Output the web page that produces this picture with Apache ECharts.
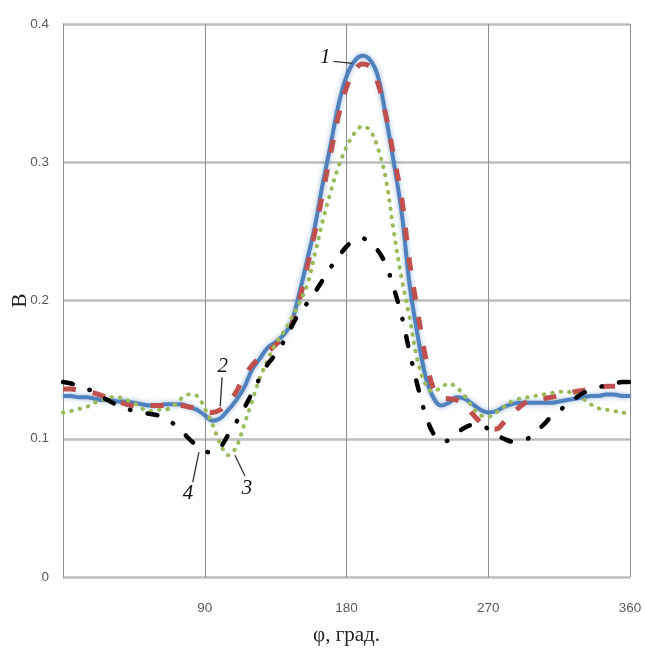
<!DOCTYPE html>
<html>
<head>
<meta charset="utf-8">
<script src="https://cdn.jsdelivr.net/npm/echarts@6/dist/echarts.min.js"></script>
<style>
html,body{margin:0;padding:0;background:#fff;}
#c{width:645px;height:655px;}
</style>
</head>
<body>
<div id="c"></div>
<script>
// angle, degrees
const phi = [0,5,10,15,20,25,30,35,40,45,50,55,60,65,70,75,80,85,90,95,100,105,110,115,120,125,130,135,140,145,150,155,160,165,170,175,180,185,190,195,200,205,210,215,220,225,230,235,240,245,250,255,260,265,270,275,280,285,290,295,300,305,310,315,320,325,330,335,340,345,350,355,360];
const curve1 = [.131,.131,.130,.130,.129,.128,.128,.127,.127,.126,.125,.124,.124,.125,.125,.125,.123,.121,.117,.113,.115,.121,.128,.137,.150,.158,.166,.170,.175,.184,.205,.229,.254,.285,.313,.342,.362,.373,.377,.374,.362,.333,.300,.264,.212,.176,.146,.130,.124,.126,.130,.129,.125,.121,.119,.120,.123,.125,.126,.126,.126,.126,.126,.127,.128,.129,.130,.131,.131,.132,.132,.131,.131];
const curve2 = [.136,.136,.135,.134,.133,.131,.129,.127,.125,.124,.124,.124,.124,.124,.124,.124,.123,.122,.120,.119,.121,.126,.134,.145,.153,.159,.163,.168,.174,.182,.200,.224,.250,.278,.307,.334,.354,.366,.371,.369,.357,.334,.304,.274,.228,.193,.160,.137,.130,.129,.128,.125,.118,.112,.108,.107,.112,.118,.123,.127,.128,.129,.130,.131,.132,.134,.135,.136,.137,.138,.138,.138,.138];
const curve3 = [.119,.120,.1215,.123,.126,.128,.130,.130,.128,.126,.122,.120,.121,.121,.124,.129,.132,.131,.122,.110,.096,.088,.094,.110,.127,.144,.157,.169,.177,.187,.198,.211,.234,.258,.279,.297,.311,.321,.326,.323,.310,.288,.250,.216,.188,.157,.140,.134,.137,.140,.137,.131,.123,.117,.116,.119,.123,.127,.129,.130,.131,.132,.133,.134,.134,.132,.129,.125,.122,.121,.120,.119,.118];
const curve4 = [.141,.140,.138,.136,.134,.130,.127,.124,.122,.120,.119,.118,.117,.115,.111,.106,.100,.095,.091,.090,.094,.103,.112,.122,.133,.144,.154,.161,.170,.181,.191,.198,.206,.215,.224,.232,.239,.244,.245,.242,.236,.226,.209,.189,.163,.139,.118,.104,.098,.099,.104,.108,.110,.110,.107,.103,.100,.098,.099,.100,.105,.110,.116,.120,.125,.129,.133,.135,.137,.139,.140,.141,.141];
const xTicks = [90,180,270,360];
// curve number labels: [text, label position, leader start, leader end] in data coords
const notes = [
  ['1', [166.5,0.3757], [171.8,0.373], [183.8,0.3715]],
  ['2', [101.5,0.1525], [101.0,0.1445], [99.8,0.1236]],
  ['3', [116.8,0.0643], [109.2,0.0880], [115.5,0.0730]],
  ['4', [79.3,0.0607], [82.4,0.0686], [86.3,0.0903]]
];

const zip = a => phi.map((p,i)=>[p,a[i]]);
const chart = echarts.init(document.getElementById('c'), null, {renderer:'canvas'});
const base = {type:'line', smooth:0.35, showSymbol:false, symbol:'none', animation:false};
chart.setOption({
  animation:false,
  backgroundColor:'#fff',
  grid:{left:63, right:15, top:24, bottom:78, containLabel:false, outerBoundsMode:'none'},
  xAxis:{
    type:'value', min:0, max:360, interval:90,
    name:'φ, град.', nameLocation:'middle', nameGap:48, nameMoveOverlap:false,
    nameTextStyle:{fontFamily:'Liberation Serif', fontSize:21, color:'#222'},
    axisLine:{show:false}, axisTick:{show:false},
    axisLabel:{margin:24, color:'#595959', fontFamily:'Liberation Sans', fontSize:13.5,
      formatter:v=> xTicks.indexOf(v)>=0 ? String(v) : ''},
    splitLine:{show:true, lineStyle:{color:'#8f8f8f', width:1}}
  },
  yAxis:{
    type:'value', min:0, max:0.4, interval:0.1,
    name:'В', nameLocation:'middle', nameGap:32, nameRotate:90, nameMoveOverlap:false,
    nameTextStyle:{fontFamily:'Liberation Serif', fontSize:21, color:'#222'},
    axisLine:{show:true, lineStyle:{color:'#8f8f8f', width:1}}, axisTick:{show:false},
    axisLabel:{margin:14, color:'#595959', fontFamily:'Liberation Sans', fontSize:13.5},
    splitLine:{show:true, lineStyle:{color:'#bdbdbd', width:2.5}}
  },
  series:[
    Object.assign({}, base, {name:'1', data:zip(curve1), z:2,
      lineStyle:{color:'#4f81bd', width:4, shadowColor:'rgba(79,129,189,0.6)', shadowBlur:5}}),
    Object.assign({}, base, {name:'2', data:zip(curve2), z:3,
      lineStyle:{color:'#c0504d', width:5, type:[13,17], cap:'butt'}}),
    Object.assign({}, base, {name:'3', data:zip(curve3), z:4,
      lineStyle:{color:'#9bbb59', width:4, type:[0.5,8], cap:'round'}}),
    Object.assign({}, base, {name:'4', data:zip(curve4), z:5,
      lineStyle:{color:'#000', width:4.5, type:[10,17.5,0.5,17.5], cap:'round'}})
  ]
});
const px = p => chart.convertToPixel({gridIndex:0}, p);
const g = [];
notes.forEach(n=>{
  const t = px(n[1]), a = px(n[2]), b = px(n[3]);
  g.push({type:'line', shape:{x1:a[0],y1:a[1],x2:b[0],y2:b[1]}, style:{stroke:'#333', lineWidth:1.3}, z:10});
  g.push({type:'text', x:t[0], y:t[1], style:{text:n[0], font:'italic 21px "Liberation Serif"', fill:'#111', textAlign:'center', textVerticalAlign:'middle'}, z:10});
});
chart.setOption({graphic:g});
</script>
</body>
</html>
